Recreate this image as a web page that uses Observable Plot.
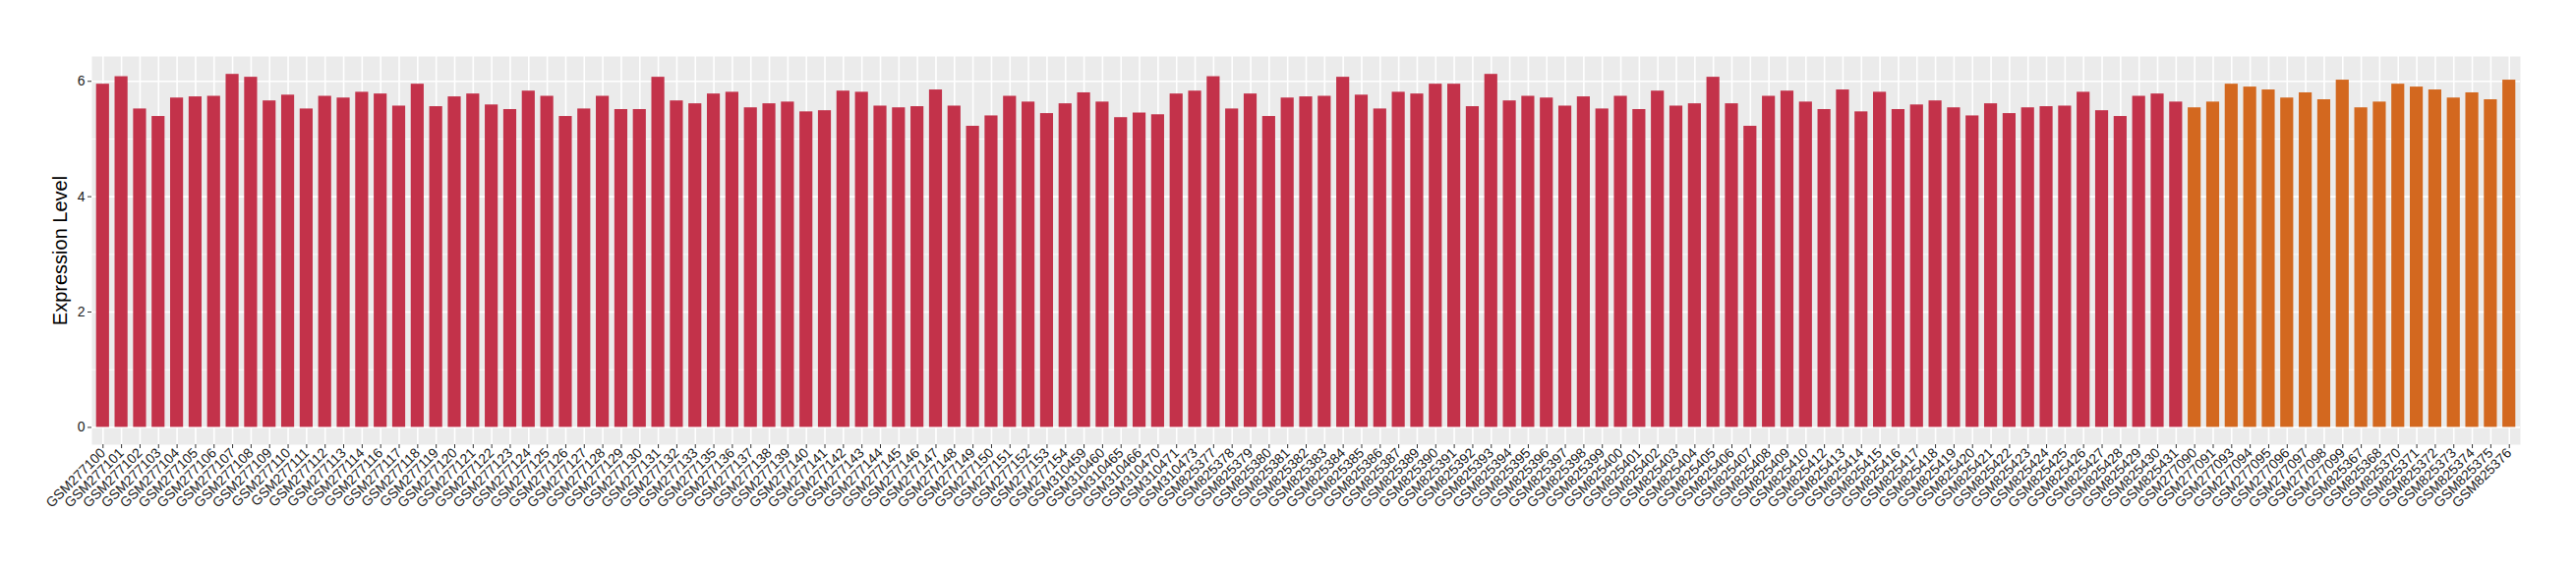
<!DOCTYPE html>
<html>
<head>
<meta charset="utf-8">
<script src="https://cdn.jsdelivr.net/npm/d3@7"></script>
<script src="https://cdn.jsdelivr.net/npm/@observablehq/plot@0.6"></script>
<style>
  body { margin: 0; background: #ffffff; }
  #chart svg g[aria-label="y-axis label"] text { font-size: 20px; fill: #000; }
  #chart svg g[aria-label="x-axis tick label"] text { font-size: 14px; fill: #1a1a1a; }
  #chart svg g[aria-label="y-axis tick label"] text { font-size: 14px; fill: #1a1a1a; }
</style>
</head>
<body>
<div id="chart"></div>
<script>
// Samples in the first (red) group
const samplesRed = [
  "GSM277100","GSM277101","GSM277102","GSM277103","GSM277104","GSM277105","GSM277106","GSM277107","GSM277108","GSM277109",
  "GSM277110","GSM277111","GSM277112","GSM277113","GSM277114","GSM277116","GSM277117","GSM277118","GSM277119","GSM277120",
  "GSM277121","GSM277122","GSM277123","GSM277124","GSM277125","GSM277126","GSM277127","GSM277128","GSM277129","GSM277130",
  "GSM277131","GSM277132","GSM277133","GSM277135","GSM277136","GSM277137","GSM277138","GSM277139","GSM277140","GSM277141",
  "GSM277142","GSM277143","GSM277144","GSM277145","GSM277146","GSM277147","GSM277148","GSM277149","GSM277150","GSM277151",
  "GSM277152","GSM277153","GSM277154",
  "GSM310459","GSM310460","GSM310465","GSM310466","GSM310470","GSM310471","GSM310473",
  "GSM825377","GSM825378","GSM825379","GSM825380","GSM825381","GSM825382","GSM825383","GSM825384","GSM825385","GSM825386",
  "GSM825387","GSM825389","GSM825390","GSM825391","GSM825392","GSM825393","GSM825394","GSM825395","GSM825396","GSM825397",
  "GSM825398","GSM825399","GSM825400","GSM825401","GSM825402","GSM825403","GSM825404","GSM825405","GSM825406","GSM825407",
  "GSM825408","GSM825409","GSM825410","GSM825412","GSM825413","GSM825414","GSM825415","GSM825416","GSM825417","GSM825418",
  "GSM825419","GSM825420","GSM825421","GSM825422","GSM825423","GSM825424","GSM825425","GSM825426","GSM825427","GSM825428",
  "GSM825429","GSM825430","GSM825431"
];
const valuesRed = [
  5.95,6.08,5.52,5.39,5.71,5.73,5.74,6.12,6.07,5.66,
  5.76,5.52,5.74,5.71,5.81,5.78,5.57,5.95,5.56,5.73,
  5.78,5.59,5.51,5.83,5.74,5.39,5.52,5.74,5.51,5.51,
  6.07,5.66,5.61,5.78,5.81,5.54,5.61,5.64,5.47,5.49,
  5.83,5.81,5.57,5.54,5.56,5.85,5.57,5.22,5.40,5.74,
  5.64,5.44,5.61,
  5.80,5.64,5.37,5.45,5.42,5.78,5.83,
  6.08,5.52,5.78,5.39,5.71,5.73,5.74,6.07,5.76,5.52,
  5.81,5.78,5.95,5.95,5.56,6.12,5.66,5.74,5.71,5.57,
  5.73,5.52,5.74,5.51,5.83,5.57,5.61,6.07,5.61,5.22,
  5.74,5.83,5.64,5.51,5.85,5.47,5.81,5.51,5.59,5.66,
  5.54,5.40,5.61,5.44,5.54,5.56,5.57,5.81,5.49,5.39,
  5.74,5.78,5.64
];
// Samples in the second (orange) group
const samplesOrange = [
  "GSM277090","GSM277091","GSM277093","GSM277094","GSM277095","GSM277096","GSM277097","GSM277098","GSM277099",
  "GSM825367","GSM825368","GSM825370","GSM825371","GSM825372","GSM825373","GSM825374","GSM825375","GSM825376"
];
const valuesOrange = [
  5.54,5.64,5.95,5.90,5.85,5.71,5.80,5.68,6.02,
  5.54,5.64,5.95,5.90,5.85,5.71,5.80,5.68,6.02
];
const yTicks = [0, 2, 4, 6];
const yMinorTicks = [1, 3, 5];
const yTitle = "Expression Level";

const redData = samplesRed.map((s, i) => ({sample: s, value: valuesRed[i]}));
const orangeData = samplesOrange.map((s, i) => ({sample: s, value: valuesOrange[i]}));
const allSamples = samplesRed.concat(samplesOrange);

const chart = Plot.plot({
  width: 2620,
  height: 580,
  marginLeft: 93,
  marginRight: 57,
  marginTop: 57,
  marginBottom: 128,
  style: {fontFamily: "'Liberation Sans', Arial, Helvetica, sans-serif", fontSize: "14px", background: "#ffffff", color: "#333333"},
  x: {type: "band", domain: allSamples, paddingInner: 0.3, paddingOuter: 0.25, align: 0.5},
  y: {domain: [-0.30, 6.43]},
  marks: [
    Plot.frame({fill: "#EBEBEB", stroke: null}),
    Plot.ruleY(yMinorTicks, {stroke: "#ffffff", strokeWidth: 0.8}),
    Plot.ruleY(yTicks, {stroke: "#ffffff", strokeWidth: 1.6}),
    Plot.gridX({stroke: "#ffffff", strokeOpacity: 1, strokeWidth: 1.6}),
    Plot.barY(redData, {x: "sample", y: "value", fill: "#C3324A"}),
    Plot.barY(orangeData, {x: "sample", y: "value", fill: "#D3681F"}),
    Plot.axisY({ticks: yTicks, tickFormat: "d", tickSize: 4, tickPadding: 3, fontSize: 14, stroke: "#333333", fill: "#1a1a1a",
      label: yTitle, labelAnchor: "center", labelArrow: "none", labelOffset: 40}),
    Plot.axisX({tickRotate: -45, tickSize: 4, tickPadding: 2, fontSize: 14, stroke: "#333333", fill: "#1a1a1a", label: null})
  ]
});
document.getElementById("chart").appendChild(chart);
</script>
</body>
</html>
